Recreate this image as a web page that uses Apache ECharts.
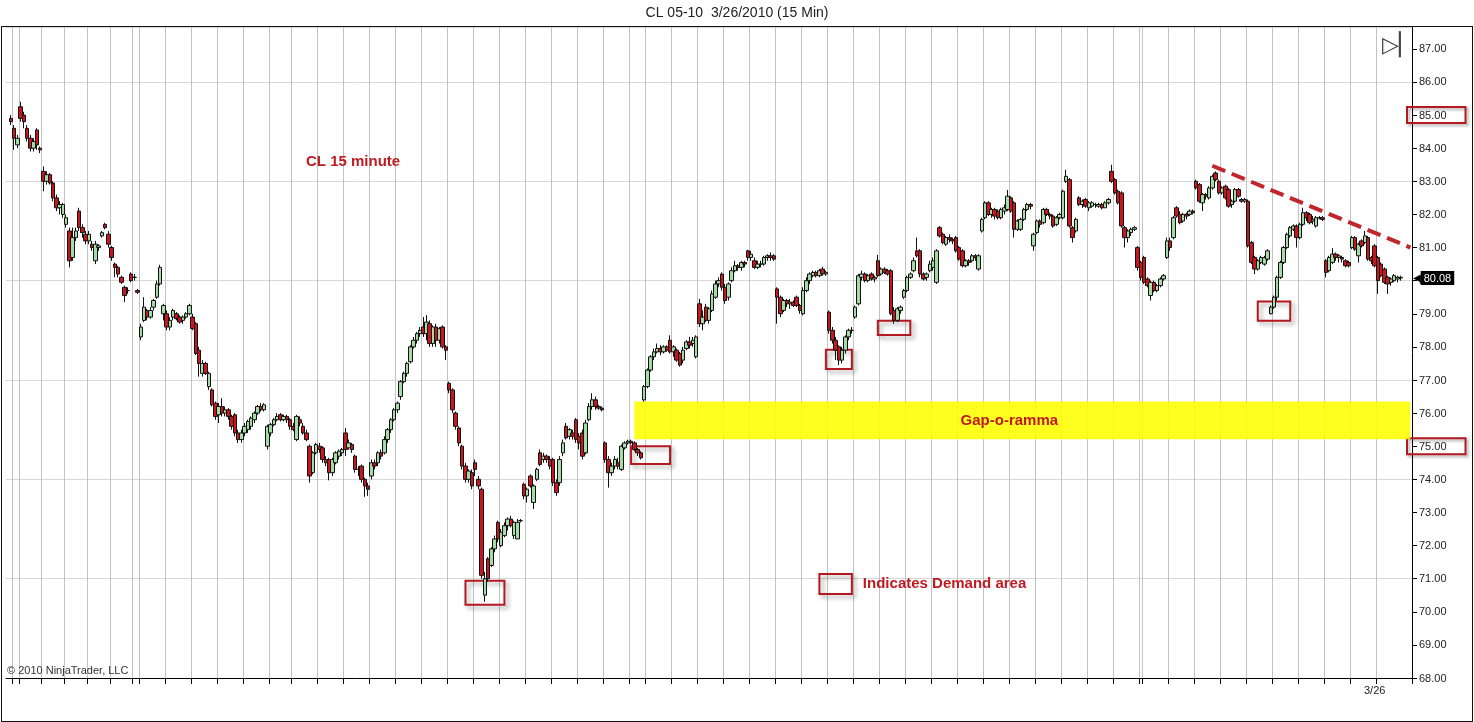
<!DOCTYPE html>
<html><head><meta charset="utf-8">
<script src="https://cdn.jsdelivr.net/npm/echarts/dist/echarts.min.js"></script>
<style>
html,body{margin:0;padding:0;background:#fff;overflow:hidden;}
#c{position:absolute;left:0;top:0;width:1474px;height:722px;}
#frame{position:absolute;left:1px;top:26px;width:1470px;height:694px;border:1px solid #111;pointer-events:none;}
</style>
</head><body><div id="c"></div><div id="frame"></div>
<script>
// Bars: [open, close, low, high], grouped by stretch of the chart (15-minute bars)
const segA = [
[84.9,84.8,84.7,85.0],[84.6,84.3,83.95,84.7],[84.1,84.3,84.0,84.4],[85.25,84.9,84.8,85.4],[85.0,84.8,84.6,85.1],
[84.6,84.3,84.2,84.7],[84.3,84.0,83.9,84.4],[84.0,84.2,83.9,84.3],[84.55,84.1,83.95,84.6],[84.0,83.95,83.85,84.05],
[83.3,83.0,82.7,83.45],[83.0,83.2,82.9,83.3],[83.2,82.95,82.9,83.25],[82.95,82.5,82.4,83.0],[82.5,82.2,82.1,82.6],
[82.2,82.3,82.0,82.4],[82.0,82.3,81.9,82.35],[81.7,81.9,81.6,82.0],[81.5,80.6,80.4,81.6],[80.7,81.3,80.6,81.6],
[81.3,81.5,81.2,81.6],[82.1,81.6,81.5,82.2],[81.6,81.45,81.3,81.7],[81.4,81.2,81.1,81.5],[81.2,81.4,81.1,81.5],
[81.1,81.0,80.9,81.2],[80.6,81.1,80.5,81.2],[81.0,81.05,80.9,81.1],[81.35,81.45,81.3,81.5],[81.7,81.6,81.55,81.75],
[81.4,81.1,81.0,81.5],[81.0,80.7,80.6,81.05],[80.5,80.4,80.1,80.55],[80.4,80.2,80.1,80.45],[80.1,79.95,79.9,80.15],
[79.8,79.55,79.35,79.85],[79.7,79.7,79.6,79.8],[80.2,80.0,79.95,80.25],[80.1,80.1,80.0,80.2],[79.7,79.65,79.6,79.75]
];
const segB = [
[78.3,78.6,78.2,78.7],[78.8,79.2,78.75,79.5],[79.1,78.9,78.8,79.15],[78.9,79.1,78.85,79.2],[79.2,79.4,79.1,79.45],
[79.5,79.9,79.45,80.0],[79.9,80.4,79.85,80.48],[79.0,79.25,78.8,79.3],[79.0,78.6,78.5,79.1],[78.6,78.8,78.5,78.9],
[78.9,79.1,78.8,79.15],[79.0,78.85,78.8,79.05],[78.9,78.75,78.7,78.95],[78.8,78.9,78.7,78.95],[78.9,79.0,78.85,79.05],
[79.0,79.25,78.95,79.3],[78.9,78.55,78.5,79.0],[78.7,77.8,77.75,78.75],[77.9,77.5,77.1,78.0],[77.2,77.5,77.1,77.6],
[77.5,77.2,77.15,77.55],[76.8,77.2,76.7,77.25],[76.7,76.25,76.2,76.75],[76.3,75.9,75.8,76.35],[75.95,76.2,75.7,76.3],
[76.2,76.0,75.9,76.45],[76.0,76.1,75.9,76.2],[76.1,75.9,75.8,76.15],[75.9,75.6,75.5,75.95],[75.95,75.4,75.3,76.0],
[75.4,75.2,75.1,75.5],[75.2,75.4,75.1,75.5],[75.4,75.6,75.3,75.7],[75.5,75.75,75.4,75.8],[75.6,75.85,75.5,75.9],
[75.8,76.0,75.7,76.05],[76.0,76.2,75.95,76.25],[76.2,76.1,76.05,76.3],[76.1,76.25,76.05,76.3],[75.0,75.6,74.9,75.65],
[75.4,75.65,75.3,75.7],[75.65,75.8,75.6,75.85],[75.8,75.9,75.75,76.0],[75.95,75.8,75.75,76.0],[75.8,75.9,75.75,75.95],
[75.9,75.8,75.7,75.95],[75.8,75.6,75.5,75.85],[75.6,75.5,75.45,75.7],[75.2,75.9,75.15,75.95],[75.8,75.7,75.6,75.9],
[75.6,75.4,75.35,75.7],[75.4,75.2,75.15,75.5],[75.0,74.1,73.9,75.05],[74.2,74.8,74.15,74.85],[74.8,75.05,74.75,75.1],
[75.0,74.9,74.8,75.1],[74.95,74.6,74.5,75.0],[74.6,74.5,74.4,74.7],[74.6,74.2,73.97,74.65],[74.2,74.6,74.1,74.65],
[74.5,74.8,74.45,74.85],[74.7,74.85,74.6,74.9],[74.8,74.9,74.7,74.95],[75.4,74.9,74.7,75.55],[74.95,75.1,74.9,75.2],
[75.05,74.9,74.8,75.1],[74.7,74.3,74.2,74.75],[74.3,74.3,74.1,74.4],[74.4,74.0,73.9,74.45],[74.0,73.8,73.47,74.05],
[73.8,73.7,73.5,73.9],[74.1,74.5,74.0,74.6],[74.5,74.4,74.3,74.6],[74.5,74.8,74.4,74.85],[74.8,74.7,74.6,74.9],
[74.8,75.2,74.75,75.3],[75.2,75.5,75.1,75.55],[75.5,75.8,75.4,75.85],[75.8,76.1,75.75,76.15],[76.1,76.3,76.0,76.35],
[76.5,76.95,76.4,77.0],[76.95,77.2,76.9,77.25],[77.2,77.5,77.1,77.55],[77.55,78.0,77.5,78.05],[78.0,78.2,77.95,78.3],
[78.2,78.4,78.1,78.45],[78.4,78.5,78.3,78.6],[78.6,78.4,78.3,78.9],[78.4,78.75,78.2,78.96],[78.7,78.1,78.0,78.8],
[78.1,78.6,78.0,78.65],[78.6,78.2,78.0,78.7],[78.2,78.55,78.1,78.6],[78.6,78.0,77.95,78.65],[78.0,77.9,77.6,78.05]
];
const segC = [
[76.9,76.7,76.6,76.95],[76.7,76.1,76.0,76.75],[76.0,75.6,75.5,76.05],[75.55,75.1,75.0,75.6],[75.0,74.4,74.3,75.05],
[74.4,74.0,73.9,74.5],[74.0,74.25,73.9,74.3],[74.2,73.8,73.7,74.3],[74.5,74.3,74.1,74.6],[74.0,73.8,73.7,74.1],
[73.7,71.1,71.0,73.75],[70.5,71.0,70.3,71.2],[71.6,71.0,70.9,71.65],[71.4,71.9,71.35,71.95],[71.9,72.2,71.8,72.3],
[72.7,72.2,72.1,72.75],[72.0,72.4,71.95,72.5],[72.3,72.6,72.25,72.7],[72.6,72.8,72.45,72.85],[72.8,72.6,72.55,72.9],
[72.3,72.7,72.2,72.75],[72.2,72.7,72.2,72.8],[72.75,72.75,72.7,72.8],[73.85,73.5,73.4,73.9],[73.5,73.7,73.3,73.75],
[74.1,73.8,73.75,74.15],[73.3,73.8,73.1,73.85],[74.0,74.3,73.95,74.35],[74.8,74.45,74.4,74.9],[74.6,74.7,74.5,74.8],
[74.7,74.6,74.5,74.75],[74.6,74.4,74.3,74.7],[74.6,73.9,73.8,74.65],[73.9,73.6,73.5,74.0],[73.9,74.6,73.8,74.7],
[74.8,75.1,74.7,75.2],[75.6,75.25,75.2,75.7],[75.3,75.5,75.2,75.55],[75.4,75.3,75.2,75.5],[75.8,75.2,75.1,75.85],
[75.3,75.1,74.9,75.4],[75.4,74.7,74.6,75.5],[74.8,75.7,74.75,75.8],[75.8,76.2,75.75,76.3],[76.2,76.4,76.1,76.6],
[76.4,76.2,76.1,76.5],[76.2,76.15,76.1,76.25],[76.15,76.1,76.05,76.2],[75.1,74.6,74.5,75.15],[74.6,74.2,73.75,74.7],
[74.2,74.4,74.1,74.5],[74.4,74.6,74.3,74.7],[74.5,74.4,74.3,74.65],[74.3,75.0,74.25,75.05],[74.95,75.1,74.9,75.15],
[75.1,75.15,75.05,75.2],[75.15,75.1,75.05,75.2],[75.1,74.9,74.85,75.15],[74.9,74.8,74.7,74.95],[74.8,74.65,74.6,74.85]
];
const segD = [
[76.4,76.8,76.35,76.85],[76.8,77.3,76.75,77.35],[77.3,77.7,77.25,77.75],[77.7,77.85,77.6,77.95],[77.85,77.95,77.8,78.1],
[77.95,77.85,77.75,78.05],[77.85,78.0,77.8,78.05],[78.0,77.9,77.85,78.05],[78.2,77.85,77.8,78.35],[77.85,78.0,77.7,78.05],
[77.9,77.6,77.55,77.95],[77.8,77.45,77.4,77.85],[77.6,77.9,77.5,78.0],[77.95,78.15,77.9,78.2],[78.15,78.05,77.95,78.3],
[78.1,78.2,78.0,78.3],[77.7,78.3,77.65,78.35],[79.3,78.7,78.6,79.45],[78.7,78.9,78.5,79.1],[79.2,78.8,78.75,79.3],
[78.8,79.15,78.7,79.2],[79.1,79.6,79.05,79.7],[79.5,79.9,79.45,80.0],[79.9,80.0,79.8,80.1],[80.2,79.8,79.7,80.25],
[79.8,79.4,79.3,79.9],[79.5,79.9,79.4,79.95],[80.0,80.3,79.95,80.4],[80.3,80.45,80.25,80.6],[80.45,80.4,80.3,80.5],
[80.4,80.55,80.3,80.6],[80.55,80.5,80.4,80.6],[80.9,80.7,80.6,80.93],[80.7,80.8,80.6,80.9],[80.6,80.4,80.35,80.7],
[80.4,80.5,80.35,80.6],[80.5,80.5,80.4,80.6],[80.5,80.7,80.45,80.75],[80.7,80.75,80.6,80.8],[80.75,80.7,80.6,80.85],
[80.75,80.65,80.6,80.8]
];
const segE = [
[79.75,79.5,78.7,79.8],[79.5,79.0,78.9,79.55],[79.1,79.4,79.05,79.45],[79.4,79.3,79.2,79.45],[79.3,79.35,79.15,79.45],
[79.35,79.25,79.2,79.4],[79.5,79.25,79.2,79.55],[79.25,79.1,79.0,79.3],[79.0,79.7,78.95,79.8],[79.7,80.0,79.65,80.1],
[80.0,80.2,79.9,80.25],[80.15,80.25,80.1,80.3],[80.25,80.15,80.1,80.3],[80.15,80.3,80.1,80.35],[80.35,80.2,80.15,80.42],
[80.2,80.25,80.15,80.3],[79.05,78.5,78.4,79.1],[78.5,78.2,78.1,78.6],[78.2,77.9,77.6,78.3],[78.0,77.6,77.45,78.05],
[77.6,77.9,77.5,78.0],[77.9,78.3,77.8,78.35],[78.3,78.5,78.2,78.55],[78.5,78.5,78.4,78.6],[78.9,79.2,78.85,79.25],
[79.3,80.15,79.25,80.2],[80.1,80.2,80.0,80.3],[80.2,80.0,79.95,80.25],[80.0,80.15,79.95,80.2],[80.2,80.05,80.0,80.25],
[80.05,80.1,79.95,80.15],[80.6,80.15,80.1,80.78],[80.2,80.35,80.15,80.4],[80.35,80.25,80.2,80.4],[80.3,80.2,80.15,80.35],
[80.3,79.0,78.95,80.35],[79.1,78.8,78.7,79.2],[78.8,79.15,78.75,79.2],[79.1,79.2,79.0,79.25],[79.5,79.7,79.45,79.75],
[79.7,80.1,79.65,80.15],[80.1,80.2,80.05,80.25],[80.3,80.6,80.25,80.7],[80.9,80.75,80.7,81.3],[80.9,80.2,80.1,80.95],
[80.2,80.05,80.0,80.25],[80.1,80.2,80.0,80.25],[80.3,80.5,80.25,80.6],[80.4,80.6,80.3,80.7],[79.95,80.9,79.9,80.95],
[81.6,81.35,81.3,81.65],[81.4,81.15,81.1,81.45],[81.1,81.3,81.05,81.35],[81.3,81.25,81.15,81.4],[81.25,81.2,81.1,81.3],
[81.3,80.9,80.85,81.35],[81.0,80.65,80.6,81.05],[80.9,80.45,80.4,80.95],[80.45,80.6,80.4,80.65],[80.6,80.55,80.45,80.65],
[80.6,80.75,80.55,80.8],[80.75,80.7,80.6,80.8],[80.35,80.75,80.3,80.8]
];
const segF = [
[81.5,81.85,81.45,81.9],[81.9,82.35,81.85,82.4],[82.35,82.0,81.95,82.4],[82.0,82.15,81.9,82.2],[82.15,81.95,81.85,82.2],
[82.1,81.9,81.85,82.15],[81.9,82.15,81.85,82.2],[82.1,82.2,82.0,82.3],[82.15,82.55,82.1,82.74],[82.5,82.1,82.05,82.55],
[82.35,81.55,81.3,82.4],[81.55,81.8,81.5,81.85],[81.55,81.85,81.5,81.9],[81.85,82.15,81.8,82.2],[82.15,82.3,82.1,82.35],
[82.3,82.25,82.15,82.35],[81.05,81.4,80.9,81.45],[81.45,81.8,81.4,81.85],[81.8,81.7,81.6,81.85],[81.75,82.15,81.7,82.2],
[82.15,82.0,81.95,82.2],[82.0,81.95,81.85,82.05],[81.95,81.65,81.6,82.0],[81.7,81.9,81.65,81.95],[81.9,82.0,81.85,82.05],
[81.9,82.7,81.85,82.75],[83.0,83.15,82.95,83.35],[83.05,81.65,81.6,83.1],[81.6,81.3,81.15,81.65],[81.5,81.85,81.45,81.9],
[82.5,82.3,82.25,82.55],[82.3,82.4,82.2,82.45],[82.45,82.25,82.2,82.5],[82.2,82.35,82.1,82.4],[82.25,82.35,82.2,82.4],
[82.3,82.3,82.2,82.35],[82.25,82.3,82.2,82.35],[82.3,82.2,82.15,82.35],[82.2,82.35,82.2,82.4],[82.35,82.45,82.3,82.5],
[83.3,83.0,82.95,83.5],[83.05,82.65,82.6,83.1],[82.7,82.35,82.3,82.75],[82.65,81.65,81.6,82.7],[81.6,81.3,81.0,81.65],
[81.3,81.5,81.15,81.55],[81.45,81.55,81.35,81.6],[81.55,81.6,81.5,81.65],[81.0,80.4,80.3,81.05]
];
const segG = [
[80.55,80.1,80.0,80.6],[80.7,79.95,79.9,80.75],[80.05,79.85,79.8,80.1],[79.55,79.95,79.4,80.0],[79.95,79.7,79.65,80.0],
[79.7,79.85,79.65,79.9],[79.85,80.05,79.8,80.1],[80.05,80.15,80.0,80.2],[80.7,81.2,80.65,81.3],[81.2,81.0,80.9,81.3],
[81.3,81.9,81.25,81.95],[82.2,81.95,81.9,82.25],[82.0,81.75,81.7,82.1],[81.8,82.0,81.75,82.05],[82.0,81.95,81.85,82.05],
[82.0,82.1,81.95,82.15],[82.1,82.05,82.0,82.15],[83.0,82.8,82.75,83.05],[82.9,82.4,82.35,82.95],[82.35,82.6,82.1,82.65],
[82.6,82.55,82.45,82.65],[82.5,82.8,82.45,82.85],[82.8,83.15,82.75,83.2],[83.25,83.05,83.0,83.3],[83.0,82.65,82.6,83.05],
[82.65,82.8,82.6,82.85],[82.85,82.5,82.45,82.9],[82.75,82.25,82.2,82.8],[82.3,82.4,82.2,82.45],[82.4,82.75,82.35,82.8],
[82.75,82.55,82.5,82.8],[82.45,82.4,82.35,82.5],[82.4,82.45,82.35,82.5],[82.4,81.05,81.0,82.45],[81.15,80.55,80.5,81.2],
[80.7,80.35,80.2,80.75],[80.35,80.6,80.3,80.65],[80.55,80.7,80.5,80.75],[80.5,80.7,80.45,80.75],[80.65,80.9,80.6,80.95],
[79.0,79.2,78.98,79.25],[79.2,79.5,79.15,79.55],[79.5,80.1,79.4,80.15],[80.1,80.55,80.05,80.6],[80.55,81.0,80.5,81.05],
[81.0,81.4,80.95,81.45],[81.35,81.6,81.3,81.65],[81.55,81.65,81.5,81.7],[81.65,81.3,81.0,81.7],[81.3,81.7,81.25,81.75],
[81.7,82.05,81.65,82.2],[82.05,81.9,81.8,82.1],[82.0,81.75,81.7,82.05],[81.8,81.85,81.7,81.95],[81.65,81.9,81.6,81.95],
[81.9,81.9,81.85,81.95],[81.9,81.85,81.8,81.95],[80.6,80.25,80.1,80.65],[80.3,80.7,80.25,80.75],[80.55,80.8,80.5,80.98],
[80.8,80.7,80.6,80.85],[80.7,80.75,80.55,80.8],[80.7,80.65,80.55,80.75],[80.6,80.45,80.4,80.65],[80.55,80.45,80.4,80.6],
[81.0,81.3,80.95,81.35],[81.3,80.95,80.9,81.35],[80.75,81.1,80.55,81.15],[81.2,81.05,81.0,81.25],[81.15,81.35,81.1,81.5],
[81.3,80.65,80.6,81.35],[80.7,80.6,80.5,80.75],[81.05,80.45,80.4,81.1],[80.7,80.0,79.6,80.75],[80.5,80.15,80.1,80.55],
[80.35,79.95,79.9,80.4],[80.1,79.9,79.6,80.15],[79.95,80.05,79.85,80.1],[80.0,80.15,79.95,80.2],[80.05,80.1,79.95,80.15],
[80.1,80.08,80.0,80.15]
];

// Annotations (category index, price)
const trendLine = [[371, 83.47], [432, 81.0]];
const gapZone = [193, 432, 75.21, 76.35];
const demandBoxes = [[141,153,70.21,70.94],[192,204,74.46,75.0],[252,260,77.33,77.91],[268,278,78.36,78.79],[385,395,78.79,79.37]];
const legendBox = [250, 260, 70.54, 71.14];
// time grid ticks (category boundaries) and tick labels
const gridTicks = [2,4,11,18,25,32,39,41,49,57,65,73,81,88,96,104,112,120,128,136,144,152,160,168,176,184,192,197,205,213,221,229,237,245,253,261,269,277,285,293,301,309,317,325,333,341,349,350,358,366,374,382,390,398,406,414,422];
const tickLabels = {421: '3/26'};
const boxedPrices = [85, 75];
const N = 433;

const FONT = '"Liberation Sans", Arial, sans-serif';
const RED = '#bf1a20';
const categories = Array.from({length: N}, (_, i) => String(i));
const bars = [].concat(segA, segB, segC, segD, segE, segF, segG);
const data = categories.map((c, i) => (i >= 1 && i <= bars.length) ? bars[i - 1] : '-');
const lastClose = bars[bars.length - 1][1];
const tickSet = new Set(gridTicks);
const tickFn = (i) => tickSet.has(i);

const boxStyle = {color: 'rgba(0,0,0,0)', borderColor: '#b5191f', borderWidth: 2,
  shadowColor: 'rgba(0,0,0,0.35)', shadowBlur: 4, shadowOffsetX: 3, shadowOffsetY: 3};
const annoLabel = {color: RED, fontWeight: 'bold', fontSize: 15, fontFamily: FONT};

const areaData = [
  [{xAxis: String(gapZone[0]), yAxis: gapZone[2], itemStyle: {color: 'rgba(255,255,0,0.88)', borderWidth: 0},
    label: Object.assign({show: true, position: 'inside', offset: [-13, 0], formatter: 'Gap-o-ramma'}, annoLabel)},
   {xAxis: String(gapZone[1]), yAxis: gapZone[3]}]
].concat(demandBoxes.map(b => [
  {xAxis: String(b[0]), yAxis: b[2], itemStyle: boxStyle, label: {show: false}},
  {xAxis: String(b[1]), yAxis: b[3]}
])).concat([[
  {xAxis: String(legendBox[0]), yAxis: legendBox[2], itemStyle: boxStyle,
    label: Object.assign({show: true, position: 'right', distance: 10, formatter: 'Indicates Demand area'}, annoLabel)},
  {xAxis: String(legendBox[1]), yAxis: legendBox[3]}
]]);

const chart = echarts.init(document.getElementById('c'), null, {renderer: 'canvas'});
const yLab = {fontSize: 11, color: '#222', fontFamily: FONT, padding: [3, 19, 2, 12]};
chart.setOption({
  animation: false,
  backgroundColor: '#fff',
  title: [
    {text: 'CL 05-10  3/26/2010 (15 Min)', left: 'center', top: 6, padding: 0,
     textStyle: {fontSize: 14, fontWeight: 'normal', color: '#222', fontFamily: FONT}},
    {text: 'CL 15 minute', left: 306, top: 154, padding: 0,
     textStyle: {fontSize: 15, fontWeight: 'bold', color: RED, fontFamily: FONT}},
    {text: '\u00a9 2010 NinjaTrader, LLC', left: 7, top: 665, padding: 0,
     textStyle: {fontSize: 11, fontWeight: 'normal', color: '#333', fontFamily: FONT}},
    {text: '\u25b7\u258f', left: 1382, top: 35, padding: 0,
     textStyle: {fontSize: 22, fontWeight: 'normal', color: '#444', fontFamily: 'DejaVu Sans'}}
  ],
  grid: {left: 6, right: 62, top: 27, bottom: 44, containLabel: false, outerBoundsMode: 'none'},
  xAxis: {
    type: 'category', data: categories, boundaryGap: true,
    axisLine: {show: true, lineStyle: {color: '#000', width: 1}},
    axisTick: {show: true, interval: tickFn, length: 6, lineStyle: {color: '#000'}},
    splitLine: {show: true, interval: tickFn, lineStyle: {color: '#c2c2c2', width: 1}},
    axisLabel: {interval: 0, margin: 7, fontSize: 11, color: '#222', fontFamily: FONT,
      formatter: (v, i) => tickLabels[i] || ''}
  },
  yAxis: [
    {type: 'value', position: 'right', min: 68, max: 87.66, interval: 1, scale: true,
     axisLine: {show: true, lineStyle: {color: '#000', width: 1}},
     axisTick: {show: true, length: 5, lineStyle: {color: '#000'}},
     splitLine: {show: false},
     axisLabel: {showMaxLabel: false, margin: -5,
       formatter: v => (boxedPrices.some(p => Math.abs(p - v) < 1e-6) ? '{b|' : '{n|') + v.toFixed(2) + '}',
       rich: {n: yLab, b: Object.assign({}, yLab, {borderColor: '#b5191f', borderWidth: 2,
         shadowColor: 'rgba(0,0,0,0.35)', shadowBlur: 3, shadowOffsetX: 2, shadowOffsetY: 2})}}
    },
    {type: 'value', position: 'right', min: 68, max: 87.66, interval: 3,
     axisLine: {show: false}, axisTick: {show: false}, axisLabel: {show: false},
     splitLine: {show: true, lineStyle: {color: '#d8d8d8', width: 1}}
    }
  ],
  series: [{
    type: 'candlestick', yAxisIndex: 0, data: data, barWidth: 4,
    itemStyle: {color: '#a5dca5', color0: '#c8161e', borderColor: '#111', borderColor0: '#111',
      borderColorDoji: '#111', borderWidth: 1},
    markArea: {silent: true, data: areaData},
    markLine: {
      silent: true, symbol: ['none', 'none'],
      data: [
        [{coord: [String(trendLine[0][0]), trendLine[0][1]],
          lineStyle: {color: '#c0262c', width: 4, type: [14, 7]}, label: {show: false}},
         {coord: [String(trendLine[1][0]), trendLine[1][1]]}],
        {yAxis: lastClose, lineStyle: {color: 'rgba(0,0,0,0)', width: 1, type: 'solid'},
         label: {show: true, position: 'end', distance: 1, color: '#fff',
           formatter: '{a|\u25c0}{b|' + lastClose.toFixed(2) + '}',
           rich: {a: {color: '#000', fontSize: 10, fontFamily: 'DejaVu Sans'},
                  b: {color: '#fff', backgroundColor: '#000', fontSize: 11, fontFamily: FONT, padding: [2, 3, 1, 3]}}}}
      ]
    }
  }]
});
</script>
</body></html>
